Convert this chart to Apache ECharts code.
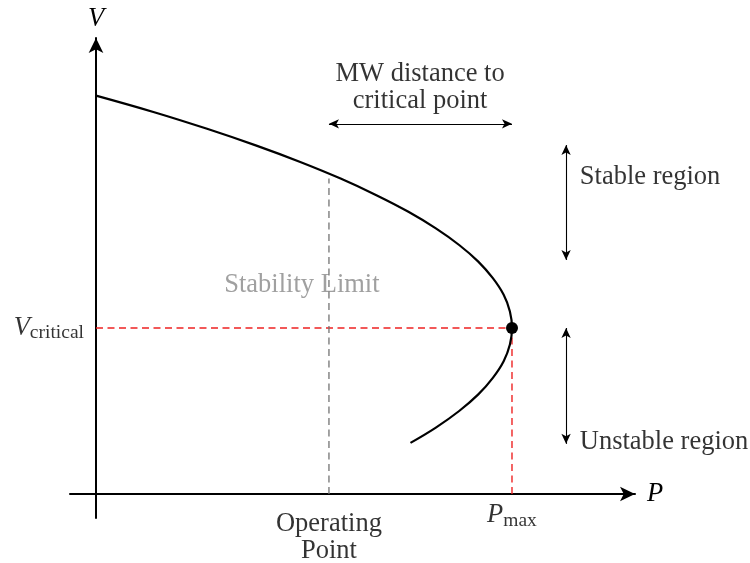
<!DOCTYPE html>
<html>
<head>
<meta charset="utf-8">
<script src="https://cdn.jsdelivr.net/npm/echarts@6/dist/echarts.min.js"></script>
<style>
  html, body { margin: 0; padding: 0; background: #fff; }
  #chart { width: 750px; height: 563px; }
</style>
</head>
<body>
<div id="chart"></div>
<script>
// P-V (nose) curve: voltage samples and the matching transferred power
const curveV = [1.20, 1.15, 1.10, 1.05, 1.00, 0.95, 0.90, 0.85, 0.80, 0.75, 0.70,
                0.65, 0.60, 0.55, 0.50, 0.45, 0.40, 0.35, 0.30, 0.25, 0.20, 0.154];
const curveP = [0.000, 0.140, 0.267, 0.384, 0.491, 0.588, 0.674, 0.751, 0.817, 0.873, 0.919,
                0.954, 0.980, 0.995, 1.000, 0.995, 0.980, 0.954, 0.919, 0.873, 0.817, 0.756];

// Key operating quantities
const pMax = 1.0;
const vCritical = 0.5;
const operatingP = 0.56;
const operatingV = 0.95;

// Region arrows (P position, V extent)
const distanceArrowV = 1.115;
const regionArrowP = 1.13;
const stableSpan = [1.051, 0.705];
const unstableSpan = [0.5, 0.151];

const serif = "'Liberation Serif', 'Times New Roman', serif";
const fs = 26.5;
const subFs = 19.5;

const chart = echarts.init(document.getElementById('chart'));

function textPoint(p, v, formatter, label) {
  return {
    value: [p, v],
    label: Object.assign({ show: true, formatter: formatter, color: '#000',
      fontFamily: serif, fontSize: fs, lineHeight: 27 }, label)
  };
}

const curveData = curveP.map((p, i) => [p, curveV[i]]);
const redDash = { color: '#ee2222', width: 1.4, type: [7, 4.5] };
const greyDash = { color: '#727272', width: 1.3, type: [7, 4.5] };

chart.setOption({
  animation: false,
  backgroundColor: '#fff',
  grid: { left: 70, right: 115, top: 38, bottom: 45, containLabel: false },
  xAxis: {
    type: 'value', min: -0.0625, max: 1.2957,
    axisLine: { onZero: true, lineStyle: { color: '#000', width: 2 },
      symbol: ['none', 'arrow'], symbolSize: [11, 15] },
    axisTick: { show: false }, axisLabel: { show: false }, splitLine: { show: false },
    name: 'P', nameLocation: 'end', nameGap: 12,
    nameTextStyle: { fontFamily: serif, fontStyle: 'italic', fontSize: fs, color: '#000' }
  },
  yAxis: {
    type: 'value', min: -0.0723, max: 1.3735,
    axisLine: { onZero: true, lineStyle: { color: '#000', width: 2 },
      symbol: ['none', 'arrow'], symbolSize: [11, 15] },
    axisTick: { show: false }, axisLabel: { show: false }, splitLine: { show: false },
    name: 'V', nameLocation: 'end', nameGap: 5,
    nameTextStyle: { fontFamily: serif, fontStyle: 'italic', fontSize: fs, color: '#000' }
  },
  series: [
    {
      name: 'PV curve', type: 'line', data: curveData, smooth: 0.4,
      symbol: 'none', lineStyle: { color: '#000', width: 2.2 }, z: 5
    },
    {
      name: 'critical voltage', type: 'line', symbol: 'none',
      data: [[0, vCritical], [pMax, vCritical]], lineStyle: redDash
    },
    {
      name: 'max power', type: 'line', symbol: 'none',
      data: [[pMax, 0], [pMax, vCritical]], lineStyle: redDash
    },
    {
      name: 'operating point', type: 'line', symbol: 'none',
      data: [[operatingP, 0], [operatingP, operatingV]], lineStyle: greyDash
    },
    {
      name: 'nose', type: 'scatter', data: [[pMax, vCritical]],
      symbolSize: 12, itemStyle: { color: '#000', opacity: 1 }, z: 6
    },
    {
      name: 'arrows', type: 'line', data: [], symbol: 'none',
      markLine: {
        silent: true, symbol: ['arrow', 'arrow'], symbolSize: [7, 10],
        label: { show: false },
        lineStyle: { color: '#000', width: 1.1, type: 'solid' },
        data: [
          [{ coord: [operatingP, distanceArrowV] }, { coord: [pMax, distanceArrowV] }],
          [{ coord: [regionArrowP, stableSpan[0]] }, { coord: [regionArrowP, stableSpan[1]] }],
          [{ coord: [regionArrowP, unstableSpan[0]] }, { coord: [regionArrowP, unstableSpan[1]] }]
        ]
      }
    },
    {
      name: 'annotations', type: 'scatter', symbolSize: 0, silent: true,
      data: [
        textPoint(0, vCritical, '{v|V}{s|critical}', {
          position: 'left', distance: 12,
          rich: {
            v: { fontFamily: serif, fontStyle: 'italic', fontSize: fs, color: '#000' },
            s: { fontFamily: serif, fontSize: subFs, color: '#000', padding: [10, 0, 0, 0] }
          }
        }),
        textPoint(pMax, 0, '{v|P}{s|max}', {
          position: 'bottom', distance: 8,
          rich: {
            v: { fontFamily: serif, fontStyle: 'italic', fontSize: fs, color: '#000' },
            s: { fontFamily: serif, fontSize: subFs, color: '#000', padding: [10, 0, 0, 0] }
          }
        }),
        textPoint(operatingP, 0, 'Operating\nPoint', { position: 'bottom', distance: 17, align: 'center' }),
        textPoint(0.779, 1.223, 'MW distance to\ncritical point', { position: 'inside', align: 'center' }),
        textPoint(1.163, 0.955, 'Stable region', { position: 'right', distance: 0 }),
        textPoint(1.163, 0.157, 'Unstable region', { position: 'right', distance: 0 }),
        textPoint(0.495, 0.63, 'Stability Limit', { position: 'inside', color: '#888' })
      ]
    }
  ]
});
</script>
</body>
</html>
